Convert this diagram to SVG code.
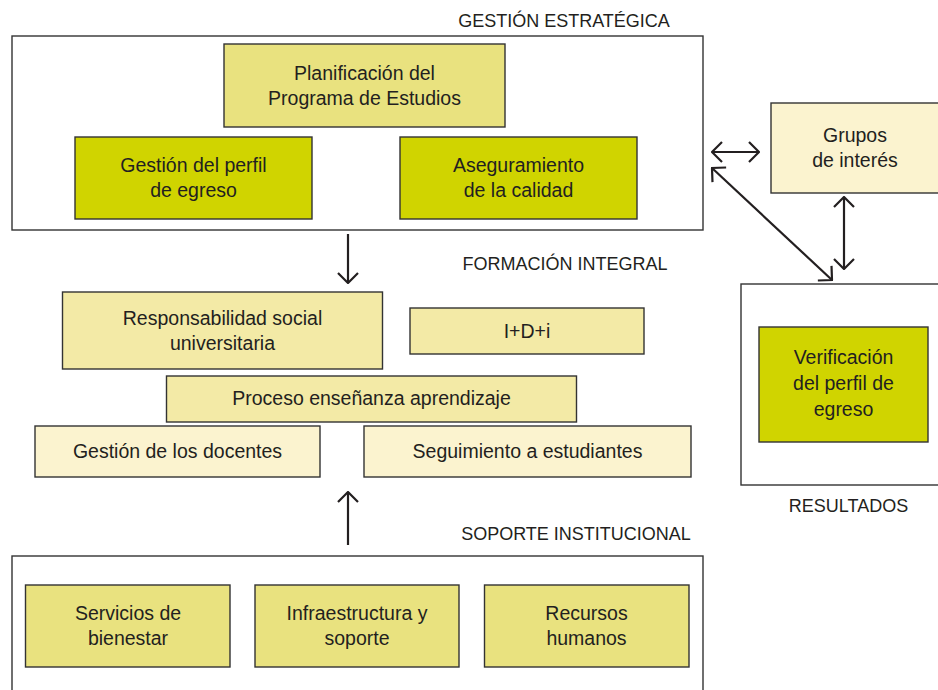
<svg xmlns="http://www.w3.org/2000/svg" width="938" height="690" viewBox="0 0 938 690">
<style>
.frame{fill:#fff;stroke:#333;stroke-width:1.4}
.dark{fill:#d0d400;stroke:#333;stroke-width:1.4}
.mid{fill:#e9e27f;stroke:#333;stroke-width:1.4}
.soft{fill:#f3eaa6;stroke:#333;stroke-width:1.4}
.light{fill:#fbf3cf;stroke:#333;stroke-width:1.4}
text{font-family:"Liberation Sans",Arial,sans-serif;fill:#231f20;text-anchor:middle}
.t{font-size:19.5px}
.h{font-size:18px}
.c{fill:none;stroke:#231f20;stroke-width:2.2}
</style>
<defs>
<marker id="ah" viewBox="0 0 12 22" refX="11" refY="11" markerWidth="12" markerHeight="22" markerUnits="userSpaceOnUse" orient="auto-start-reverse">
<path d="M1,1 L11,11 L1,21" fill="none" stroke="#231f20" stroke-width="2.2"/>
</marker>
</defs>
<rect width="938" height="690" fill="#fff"/>

<g id="gestion-estrategica">
<text class="h" x="564" y="27">GESTIÓN ESTRATÉGICA</text>
<rect class="frame" x="12" y="36" width="691" height="194"/>
</g>
<g id="planificacion">
<rect class="mid" x="224" y="44" width="281" height="83"/>
<text class="t" x="364.5" y="80">Planificación del</text>
<text class="t" x="364.5" y="105">Programa de Estudios</text>
</g>
<g id="perfil-egreso">
<rect class="dark" x="75" y="137" width="237" height="82"/>
<text class="t" x="193.5" y="172">Gestión del perfil</text>
<text class="t" x="193.5" y="197">de egreso</text>
</g>
<g id="aseguramiento">
<rect class="dark" x="400" y="137" width="237" height="82"/>
<text class="t" x="518.5" y="172">Aseguramiento</text>
<text class="t" x="518.5" y="197">de la calidad</text>
</g>
<g id="grupos">
<rect class="light" x="771" y="103" width="170" height="90"/>
<text class="t" x="855" y="142">Grupos</text>
<text class="t" x="855" y="167">de interés</text>
</g>

<g id="formacion-integral">
<text class="h" x="565" y="270">FORMACIÓN INTEGRAL</text>
</g>
<g id="responsabilidad">
<rect class="soft" x="62.5" y="292" width="320" height="77"/>
<text class="t" x="222.5" y="325">Responsabilidad social</text>
<text class="t" x="222.5" y="350">universitaria</text>
</g>
<g id="idi">
<rect class="soft" x="410" y="308" width="234" height="46"/>
<text class="t" x="527" y="338">I+D+i</text>
</g>
<g id="proceso">
<rect class="soft" x="166.5" y="376" width="410" height="46"/>
<text class="t" x="371.5" y="405">Proceso enseñanza aprendizaje</text>
</g>
<g id="docentes">
<rect class="light" x="35" y="426" width="285" height="51"/>
<text class="t" x="177.5" y="458">Gestión de los docentes</text>
</g>
<g id="seguimiento">
<rect class="light" x="364" y="426" width="327" height="51"/>
<text class="t" x="527.5" y="458">Seguimiento a estudiantes</text>
</g>

<g id="resultados">
<rect class="frame" x="741" y="284" width="200" height="201"/>
<text class="h" x="848.5" y="512">RESULTADOS</text>
</g>
<g id="verificacion">
<rect class="dark" x="759" y="327" width="169" height="115"/>
<text class="t" x="843.5" y="364">Verificación</text>
<text class="t" x="843.5" y="390">del perfil de</text>
<text class="t" x="843.5" y="416">egreso</text>
</g>

<g id="soporte-institucional">
<text class="h" x="576" y="540">SOPORTE INSTITUCIONAL</text>
<rect class="frame" x="12" y="556" width="691" height="140"/>
</g>
<g id="servicios">
<rect class="mid" x="25.5" y="585" width="204.5" height="82"/>
<text class="t" x="128" y="620">Servicios de</text>
<text class="t" x="128" y="645">bienestar</text>
</g>
<g id="infraestructura">
<rect class="mid" x="255" y="585" width="204" height="82"/>
<text class="t" x="357" y="620">Infraestructura y</text>
<text class="t" x="357" y="645">soporte</text>
</g>
<g id="recursos">
<rect class="mid" x="484.5" y="585" width="204.5" height="82"/>
<text class="t" x="586.5" y="620">Recursos</text>
<text class="t" x="586.5" y="645">humanos</text>
</g>

<g id="connectors">
<line class="c" x1="348" y1="234" x2="348" y2="283" marker-end="url(#ah)"/>
<line class="c" x1="348" y1="545" x2="348" y2="492" marker-end="url(#ah)"/>
<line class="c" x1="712" y1="152" x2="759" y2="152" marker-start="url(#ah)" marker-end="url(#ah)"/>
<line class="c" x1="712" y1="168" x2="832" y2="280" marker-start="url(#ah)" marker-end="url(#ah)"/>
<line class="c" x1="844" y1="197" x2="844" y2="269" marker-start="url(#ah)" marker-end="url(#ah)"/>
</g>
</svg>
